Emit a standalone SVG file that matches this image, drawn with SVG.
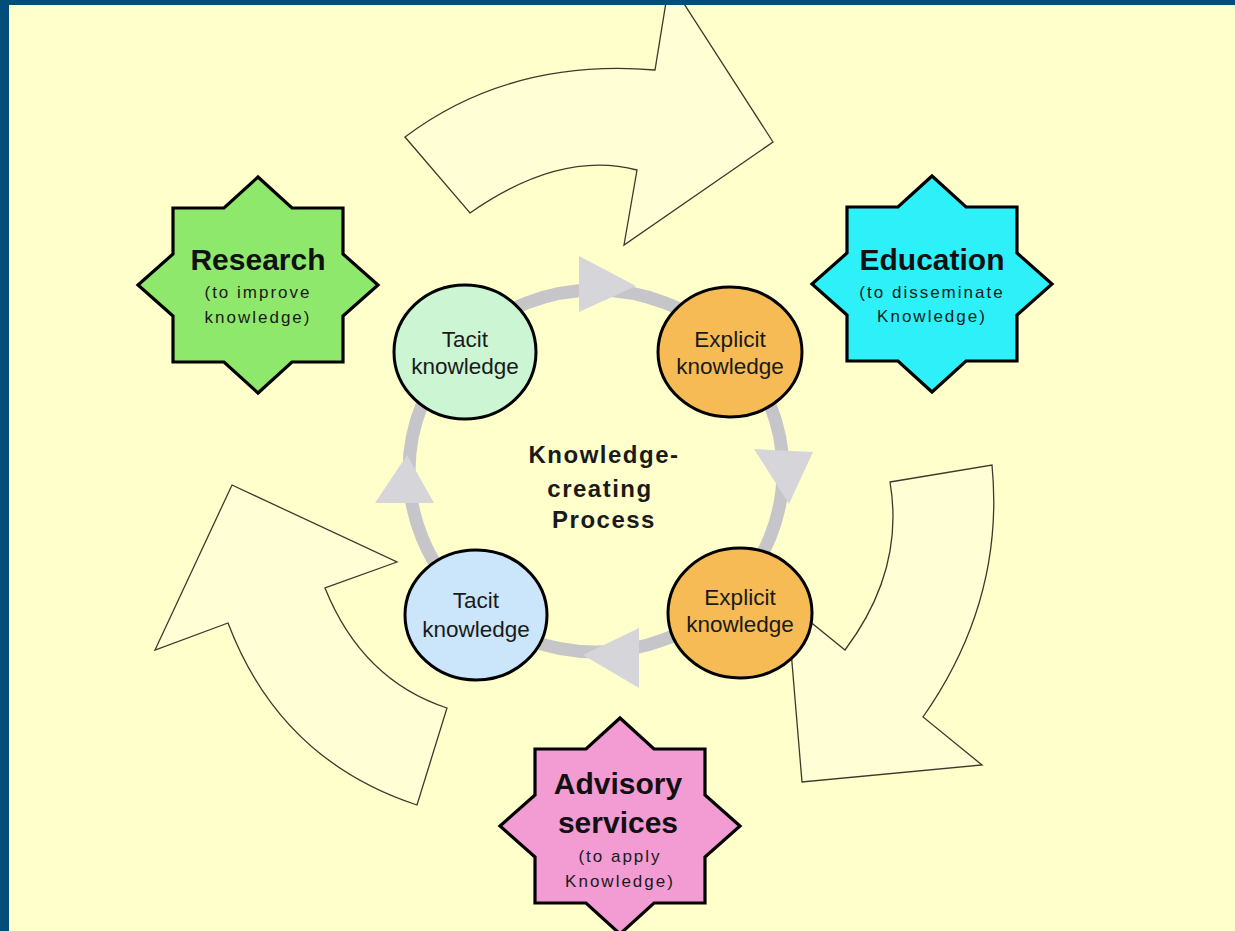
<svg xmlns="http://www.w3.org/2000/svg" width="1235" height="931" viewBox="0 0 1235 931">
<style>
.bigarrow{fill:#fffed4;stroke:#3a3a2a;stroke-width:1.3;stroke-linejoin:miter}
.ring{fill:none;stroke:#c6c6ca;stroke-width:13}
.tri{fill:#d6d6da;stroke:none}
.star{stroke:#000;stroke-width:3.2;stroke-linejoin:miter}
.circ{stroke:#000;stroke-width:3}
.title{font-family:"Liberation Sans",Arial,sans-serif;font-weight:bold;font-size:30px;fill:#111;text-anchor:middle}
.sub{font-family:"Liberation Sans",Arial,sans-serif;font-size:17px;letter-spacing:2px;fill:#1a1a1a;text-anchor:middle}
.ctext{font-family:"Liberation Sans",Arial,sans-serif;font-size:22.5px;fill:#1a1a1a;text-anchor:middle}
.center{font-family:"Liberation Sans",Arial,sans-serif;font-weight:bold;font-size:24px;letter-spacing:1.5px;fill:#1a1a1a;text-anchor:middle}
</style>
<defs>
<path id="star" d="M0,-108 L34,-77 L85,-77 L85,-31 L120,0 L85,31 L85,77 L34,77 L0,108 L-34,77 L-85,77 L-85,31 L-120,0 L-85,-31 L-85,-77 L-34,-77 Z"/>
</defs>
<rect x="0" y="0" width="1235" height="931" fill="#ffffcc"/>
<g id="big-arrows">
<path class="bigarrow" d="M405,137 Q510,58 655,70 L667,-4 L679,-4 L773,142 L624,245 L637,170 Q560,150 470,213 Z"/>
<path class="bigarrow" d="M890,482 L992,465 Q1005,600 923,717 L982,765 L802,782 L787,603 L845,650 Q905,570 890,482 Z"/>
<path class="bigarrow" d="M232,485 L397,562 L325,588 Q362,680 447,708 L417,805 Q280,760 228,623 L155,650 Z"/>
</g>
<g id="connectors">
<ellipse class="ring" cx="596" cy="471" rx="187" ry="181"/>
<polygon class="tri" points="579,256 579,312 636,286"/>
<polygon class="tri" points="754,449 813,452 789,504"/>
<polygon class="tri" points="583,655 639,628 639,688"/>
<polygon class="tri" points="407,455 375,503 434,503"/>
</g>
<g id="tacit-top">
<ellipse class="circ" cx="465" cy="352" rx="71" ry="67" fill="#ccf5d3"/>
<text class="ctext" x="465" y="347">Tacit</text>
<text class="ctext" x="465" y="374">knowledge</text>
</g>
<g id="explicit-top">
<ellipse class="circ" cx="730" cy="352" rx="72" ry="65" fill="#f6bb55"/>
<text class="ctext" x="730" y="347">Explicit</text>
<text class="ctext" x="730" y="374">knowledge</text>
</g>
<g id="explicit-bottom">
<ellipse class="circ" cx="740" cy="613" rx="72" ry="65" fill="#f6bb55"/>
<text class="ctext" x="740" y="605">Explicit</text>
<text class="ctext" x="740" y="632">knowledge</text>
</g>
<g id="tacit-bottom">
<ellipse class="circ" cx="476" cy="615" rx="71" ry="65" fill="#cbe6fa"/>
<text class="ctext" x="476" y="608">Tacit</text>
<text class="ctext" x="476" y="637">knowledge</text>
</g>
<g id="center-label">
<text class="center" x="604" y="463">Knowledge-</text>
<text class="center" x="600" y="497">creating</text>
<text class="center" x="604" y="528">Process</text>
</g>
<g id="research">
<use href="#star" x="258" y="285" class="star" fill="#8ee86b"/>
<text class="title" x="258" y="270">Research</text>
<text class="sub" x="258" y="298">(to improve</text>
<text class="sub" x="258" y="323">knowledge)</text>
</g>
<g id="education">
<use href="#star" x="932" y="284" class="star" fill="#2ef0f8"/>
<text class="title" x="932" y="270">Education</text>
<text class="sub" x="932" y="298">(to disseminate</text>
<text class="sub" x="932" y="322">Knowledge)</text>
</g>
<g id="advisory">
<use href="#star" x="620" y="826" class="star" fill="#f39bd3"/>
<text class="title" x="618" y="794">Advisory</text>
<text class="title" x="618" y="833">services</text>
<text class="sub" x="620" y="862">(to apply</text>
<text class="sub" x="620" y="887">Knowledge)</text>
</g>
<g id="border">
<rect x="0" y="0" width="1235" height="5" fill="#034d7a"/>
<rect x="0" y="0" width="9" height="931" fill="#034d7a"/>
</g>
</svg>
